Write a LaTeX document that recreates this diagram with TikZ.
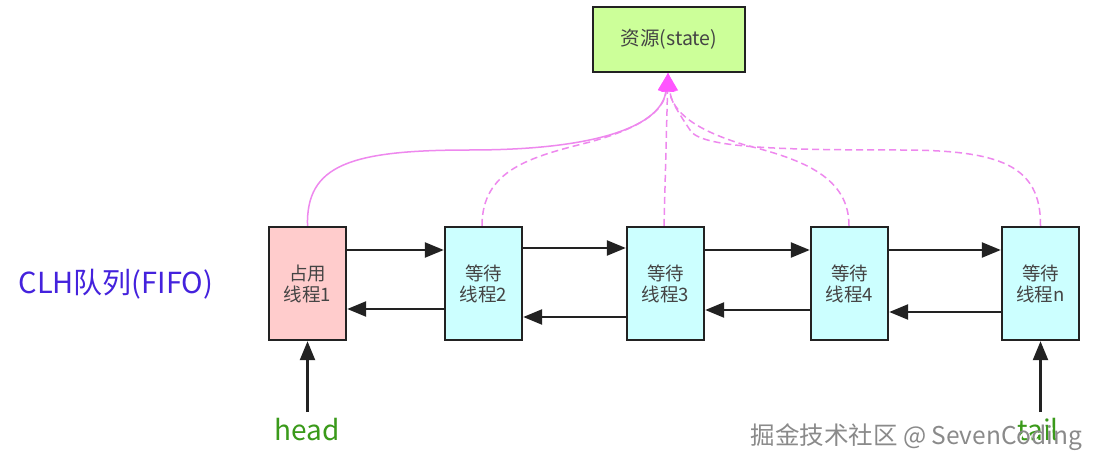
\documentclass[tikz,border=0pt]{standalone}
\usepackage{fontspec}
\setmainfont{Noto Sans CJK SC}
\usetikzlibrary{arrows.meta}
\definecolor{pinkfill}{HTML}{FFCCCC}
\definecolor{cyanfill}{HTML}{CCFFFF}
\definecolor{greenfill}{HTML}{CCFF99}
\definecolor{boxline}{HTML}{222222}
\definecolor{boxtext}{HTML}{444444}
\definecolor{magline}{HTML}{EE88EE}
\definecolor{magtip}{HTML}{FF55FF}
\definecolor{clhcol}{HTML}{4422DD}
\definecolor{headcol}{HTML}{3A9A1A}
\definecolor{wmcol}{HTML}{8A8A8A}
\tikzset{
  thread/.style={draw=boxline, line width=2.4pt, minimum width=77pt, minimum height=113pt,
    inner sep=0pt, align=center, font=\fontsize{18.5}{21}\selectfont, text=boxtext},
  res/.style={thread, fill=greenfill, minimum width=152pt, minimum height=65pt,
    font=\fontsize{19.5}{22}\selectfont},
  fwd/.style={draw=boxline, line width=2.4pt, -{Triangle[length=19pt,width=15pt]}},
  solidlink/.style={draw=magline, line width=1.5pt, -{Triangle[length=18pt,width=16pt,color=magtip]}},
  dashlink/.style={solidlink, dash pattern=on 7pt off 4pt},
}
\begin{document}
\begin{tikzpicture}[x=1pt,y=-1pt]
\useasboundingbox[fill=white] (0,0) rectangle (1106,465);
\node[res] (st) at (669,39.5) {资源(state)};
\node[thread, fill=pinkfill] (b1) at (307.5,283.5) {占用\\线程1};
\node[thread, fill=cyanfill] (b2) at (483.5,283.5) {等待\\线程2};
\node[thread, fill=cyanfill] (b3) at (665.5,283.5) {等待\\线程3};
\node[thread, fill=cyanfill] (b4) at (849.5,283.5) {等待\\线程4};
\node[thread, fill=cyanfill] (bn) at (1040.5,283.5) {等待\\线程n};
\node[text=clhcol, font=\fontsize{29}{32}\selectfont, anchor=west] (clh) at (15,284) {CLH队列(FIFO)};
\node[text=headcol, font=\fontsize{28}{32}\selectfont] (head) at (307.5,430) {head};
\node[text=headcol, font=\fontsize{28}{32}\selectfont] (tail) at (1038,430) {tail};
\coordinate (tip) at (st.south);
% forward / backward arrows
\draw[fwd] (b1.east |- 0,250) -- (b2.west |- 0,250);
\draw[fwd] (b2.west |- 0,309) -- (b1.east |- 0,309);
\draw[fwd] (b2.east |- 0,248) -- (b3.west |- 0,248);
\draw[fwd] (b3.west |- 0,317) -- (b2.east |- 0,317);
\draw[fwd] (b3.east |- 0,250) -- (b4.west |- 0,250);
\draw[fwd] (b4.west |- 0,310) -- (b3.east |- 0,310);
\draw[fwd] (b4.east |- 0,250) -- (bn.west |- 0,250);
\draw[fwd] (bn.west |- 0,312) -- (b4.east |- 0,312);
\draw[fwd] (b1.south |- 0,412) -- (b1.south);
\draw[fwd] (bn.south |- 0,412) -- (bn.south);
% links to resource
\draw[solidlink] (b1.north) .. controls (306,165) and (350,150) .. (470,150)
   .. controls (600,150) and (662,125) .. ([xshift=-1pt]tip);
\draw[dashlink] (b2.north -| 482,0) .. controls (482,170) and (530,157) .. (590,142)
   .. controls (640,128) and (664,112) .. ([xshift=-1pt]tip);
\draw[dashlink] (b3.north -| 664,0) -- ([xshift=-1pt]tip);
\draw[dashlink] (b4.north -| 849,0) .. controls (849,178) and (805,160) .. (745,145)
   .. controls (695,130) and (672,112) .. ([xshift=-1pt]tip);
\draw[dashlink] (bn.north) .. controls (1041,165) and (1000,150) .. (900,150)
   .. controls (780,150) and (700,148) .. (690,130) .. controls (680,115) and (670,100) .. ([xshift=-1pt]tip);
% watermark
\node[text=white, font=\fontsize{24.5}{28}\selectfont, anchor=west] at (748.8,438.8) {掘金技术社区 @ SevenCoding};
\node[text=wmcol, font=\fontsize{24.5}{28}\selectfont, anchor=west] (wm) at (747,437) {掘金技术社区 @ SevenCoding};
\end{tikzpicture}
\end{document}
